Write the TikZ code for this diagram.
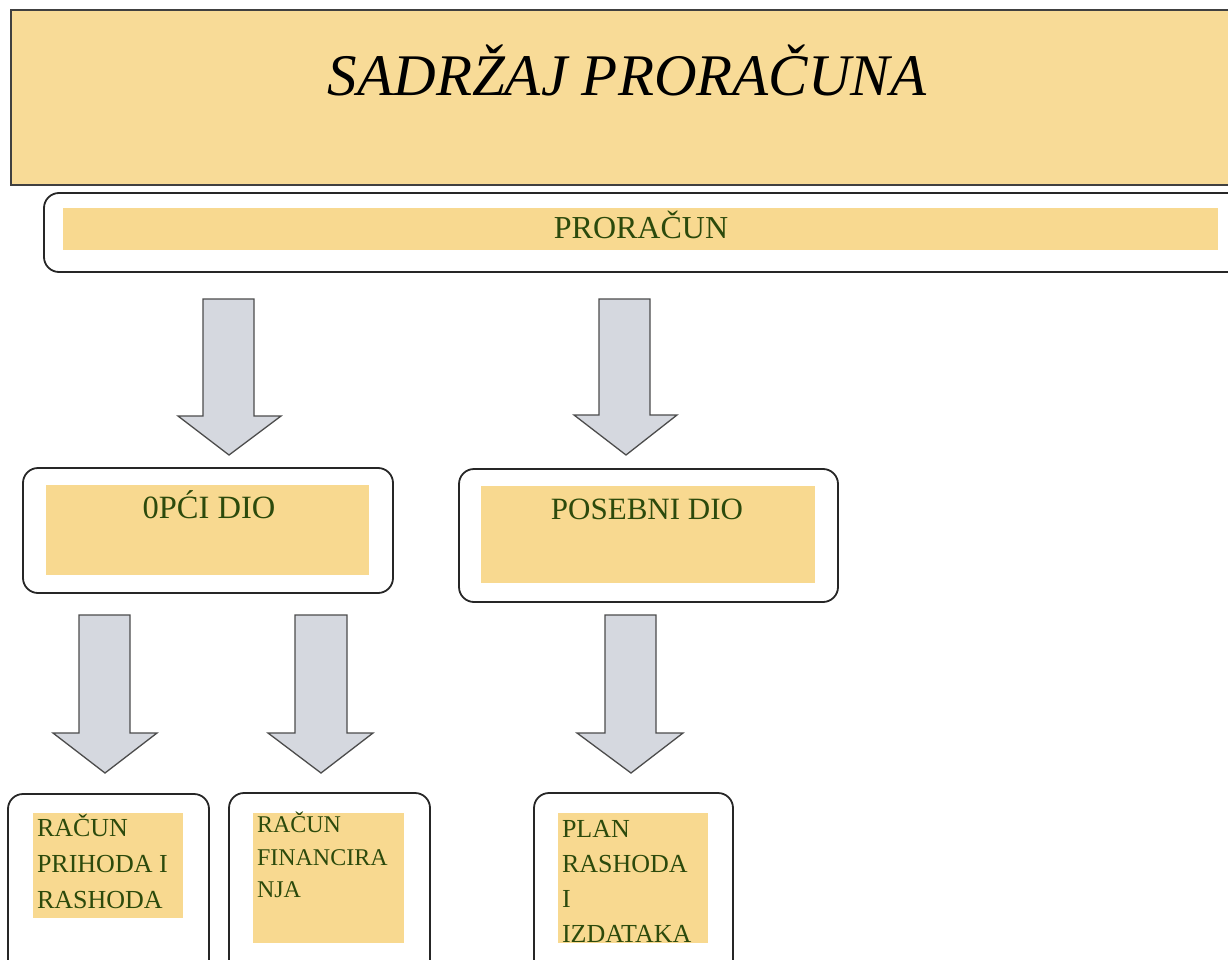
\documentclass[tikz,border=0pt]{standalone}
\usepackage{fontspec}
\setmainfont{Liberation Serif}
\begin{document}
\begin{tikzpicture}[x=1pt,y=-1pt,
  titlebox/.style={draw=black!75,line width=1.6pt,fill=titleyel,anchor=north west,inner sep=0pt,outer sep=0pt},
  roundbox/.style={draw=black!85,line width=1.8pt,fill=white,rounded corners=15pt,anchor=north west,inner sep=0pt,outer sep=0pt},
  yelbox/.style={fill=boxyel,anchor=north west,inner sep=0pt,outer sep=0pt},
  lbl/.style={text=labgreen,inner sep=0pt,outer sep=0pt},
  blockarrow/.style={draw=black!70,line width=1.3pt,fill=arrgray,line join=miter}
]
\definecolor{titleyel}{HTML}{F8DB97}
\definecolor{boxyel}{HTML}{F8D990}
\definecolor{labgreen}{HTML}{2C4A0C}
\definecolor{arrgray}{HTML}{D5D8DF}
\useasboundingbox (0,0) rectangle (1228,960);
\clip (0,0) rectangle (1228,960);

% title
\node[titlebox,minimum width=1240pt,minimum height=175pt] (title) at (11,10) {};
\node[inner sep=0pt,anchor=base,font=\fontsize{59}{59}\itshape\selectfont,text=black] (titletext) at (627,96) {SADRŽAJ PRORAČUNA};

% proracun
\node[roundbox,minimum width=1200pt,minimum height=79pt] (pror) at (44,193) {};
\node[yelbox,minimum width=1155pt,minimum height=42pt] (prorin) at (63,208) {};
\node[lbl,anchor=base,font=\fontsize{32}{32}\selectfont] (prortext) at (641,238) {PRORAČUN};

% level 2 boxes
\node[roundbox,minimum width=370pt,minimum height=125pt] (opci) at (23,468) {};
\node[yelbox,minimum width=323pt,minimum height=90pt] (opciin) at (46,485) {};
\node[lbl,anchor=base,font=\fontsize{32.5}{32.5}\selectfont] (opcitext) at (209,518) {0PĆI DIO};

\node[roundbox,minimum width=379pt,minimum height=133pt] (pos) at (459,469) {};
\node[yelbox,minimum width=334pt,minimum height=97pt] (posin) at (481,486) {};
\node[lbl,anchor=base,font=\fontsize{31}{31}\selectfont] (postext) at (647,519) {POSEBNI DIO};

% level 3 boxes
\node[roundbox,minimum width=201pt,minimum height=190pt] (rpr) at (8,794) {};
\node[yelbox,minimum width=150pt,minimum height=105pt] (rprin) at (33,813) {};
\node[lbl,font=\fontsize{26}{36}\selectfont,align=left,anchor=north west] (rprtext) at (37,814) {RAČUN\\PRIHODA I\\RASHODA};

\node[roundbox,minimum width=201pt,minimum height=190pt] (rf) at (229,793) {};
\node[yelbox,minimum width=151pt,minimum height=130pt] (rfin) at (253,813) {};
\node[lbl,font=\fontsize{24}{32.5}\selectfont,align=left,anchor=north west] (rftext) at (257,812) {RAČUN\\FINANCIRA\\NJA};

\node[roundbox,minimum width=199pt,minimum height=190pt] (plan) at (534,793) {};
\node[yelbox,minimum width=150pt,minimum height=130pt] (planin) at (558,813) {};
\node[lbl,font=\fontsize{26}{35}\selectfont,align=left,anchor=north west] (plantext) at (562,820) {PLAN\\RASHODA\\I\\IZDATAKA};

% block arrows
\draw[blockarrow] (203,299) -- (254,299) -- (254,416) -- (281,416) -- (229,455) -- (178,416) -- (203,416) -- cycle;
\draw[blockarrow] (599,299) -- (650,299) -- (650,415) -- (677,415) -- (626,455) -- (574,415) -- (599,415) -- cycle;
\draw[blockarrow] (79,615) -- (130,615) -- (130,733) -- (157,733) -- (105,773) -- (53,733) -- (79,733) -- cycle;
\draw[blockarrow] (295,615) -- (347,615) -- (347,733) -- (373,733) -- (321,773) -- (268,733) -- (295,733) -- cycle;
\draw[blockarrow] (605,615) -- (656,615) -- (656,733) -- (683,733) -- (631,773) -- (577,733) -- (605,733) -- cycle;
\end{tikzpicture}
\end{document}
